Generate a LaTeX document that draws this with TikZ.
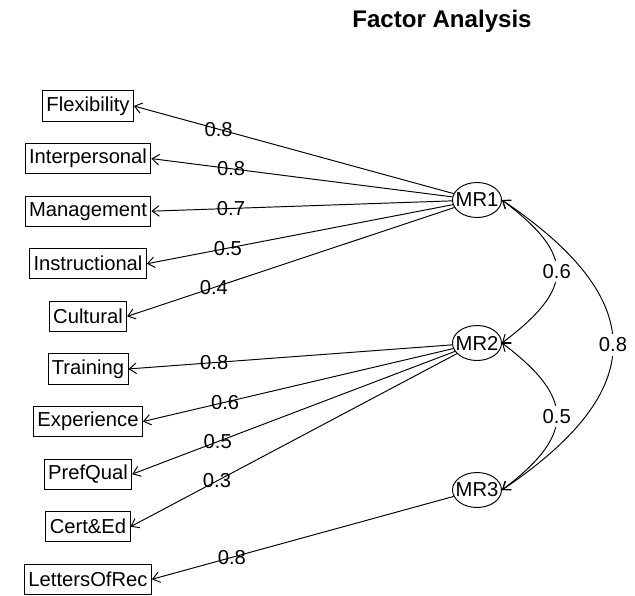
\documentclass[tikz,border=0pt]{standalone}
\usepackage{fontspec}
\setmainfont{Liberation Sans}
\usetikzlibrary{arrows.meta,positioning,shapes.geometric}

\begin{document}
\begin{tikzpicture}[x=0.02cm,y=-0.02cm,>={Straight Barb[length=4pt,width=6pt]},line width=0.55pt,node distance=1.052cm,
    item/.style={rectangle,draw,inner xsep=2.2pt,minimum height=0.6cm,font=\fontsize{11.5}{13}\selectfont},
    factor/.style={ellipse,draw,fill=white,inner xsep=-3pt,inner ysep=0pt,minimum width=0.98cm,minimum height=0.7cm,font=\fontsize{11.5}{13}\selectfont}]
                    \useasboundingbox (0,0) rectangle (635,595);
                    \node[anchor=base,font=\bfseries\fontsize{13.7}{16}\selectfont] (title) at (442,28) {Factor Analysis};

                    \node[item] (flex) at (88,106) {Flexibility};
                    \node[item] (inter) [below of = flex] {Interpersonal};
                    \node[item] (manag) [below of = inter] {Management};
                    \node[item] (instr) [below of = manag] {Instructional};
                    \node[item] (cult) [below of = instr] {Cultural};
                    \node[item] (train) [below of = cult] {Training};
                    \node[item] (exper) [below of = train] {Experience};
                    \node[item] (pref) [below of = exper] {PrefQual};
                    \node[item] (cert) [below of = pref] {Cert\&Ed};
                    \node[item] (letter) [below of = cert] {LettersOfRec};

                    \node[factor] (mr1) at (477,200) {MR1};
                    \node[factor] (mr2) at (477,343) {MR2};
                    \node[factor] (mr3) at (477,490) {MR3};

                    \path[->,every node/.style={font=\fontsize{11.5}{13}\selectfont,pos=0.735,inner sep=0pt}]
                            (mr1) edge node {0.8} (flex.east)
                            (mr1) edge node {0.8} (inter.east)
                            (mr1) edge node {0.7} (manag.east)
                            (mr1) edge node {0.5} (instr.east)
                            (mr1) edge node {0.4} (cult.east)

                            (mr2) edge node {0.8} (train.east)
                            (mr2) edge node {0.6} (exper.east)
                            (mr2) edge node {0.5} (pref.east)
                            (mr2) edge node {0.3} (cert.east)

                            (mr3) edge node {0.8} (letter.east)
                        ;

                    % factor correlations
                    \begin{scope}[<->,every node/.style={font=\fontsize{11.5}{13}\selectfont,fill=white,inner sep=2pt}]
                        \draw (mr1.east) .. controls +(73,55) and +(73,-55) .. node {0.6} (mr2.east);
                        \draw (mr2.east) .. controls +(73,55) and +(73,-55) .. node {0.5} (mr3.east);
                        \draw (mr1.east) .. controls +(148,100) and +(148,-100) .. node {0.8} (mr3.east);
                    \end{scope}
                \end{tikzpicture}
\end{document}
